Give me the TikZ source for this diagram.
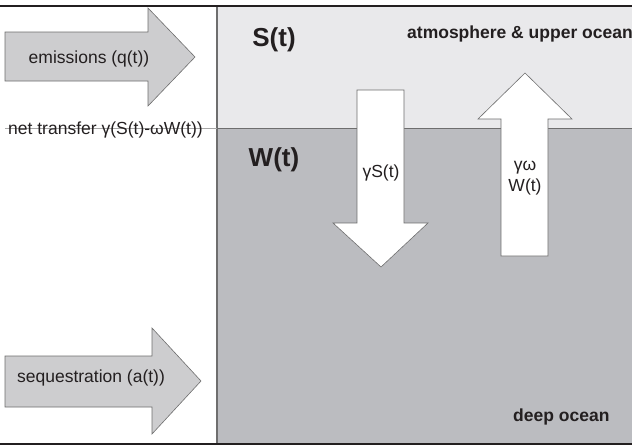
\documentclass[tikz,border=0pt]{standalone}
\usepackage{fontspec}
\setmainfont{Liberation Sans}

\definecolor{upperfill}{HTML}{E9E9EB}
\definecolor{deepfill}{HTML}{BBBCC0}
\definecolor{arrowfill}{HTML}{CDCDCF}
\definecolor{edgegray}{HTML}{6E6E6E}
\definecolor{inkblack}{HTML}{231F20}

\tikzset{
  fatarrow/.style={draw=edgegray, line width=0.6pt, line join=miter},
  lbl/.style={inner sep=0pt, text=inkblack, font=\fontsize{17.5}{21}\selectfont},
  biglbl/.style={inner sep=0pt, text=inkblack, font=\fontsize{26}{30}\selectfont\bfseries},
  boldlbl/.style={inner sep=0pt, text=inkblack, font=\fontsize{17.5}{21}\selectfont\bfseries}
}

\begin{document}
\begin{tikzpicture}[x=1pt,y=-1pt]
  \useasboundingbox (0,0) rectangle (632,447);

  % reservoirs
  \fill[upperfill] (217,6) rectangle (632,128);
  \fill[deepfill] (217,128) rectangle (632,444);
  \draw[edgegray, line width=0.8pt] (217,128) -- (632,128);
  \draw[edgegray, line width=1.5pt] (217,6) -- (217,444);

  % inflow arrows
  \draw[fatarrow, fill=arrowfill] (5,32) -- (148,32) -- (148,8) -- (195,57)
    -- (148,106) -- (148,81) -- (5,81) -- cycle;
  \draw[fatarrow, fill=arrowfill] (5,356) -- (152,356) -- (152,328) -- (201,381)
    -- (152,434) -- (152,407) -- (5,407) -- cycle;

  % exchange arrows
  \draw[fatarrow, fill=white] (357,90) -- (404,90) -- (404,223) -- (428,223)
    -- (381,267) -- (333,223) -- (357,223) -- cycle;
  \draw[fatarrow, fill=white] (501,256) -- (548,256) -- (548,119) -- (572,119)
    -- (525,73) -- (478,119) -- (501,119) -- cycle;

  % net transfer line
  \coordinate (netStart) at (5,128);
  \coordinate (netEnd) at (217,128);
  \draw[gray!70, line width=0.6pt] (netStart) -- (netEnd);

  % top and bottom rules
  \draw[inkblack, line width=2pt] (0,6) -- (632,6);
  \draw[inkblack, line width=2pt] (0,444) -- (632,444);

  % labels
  \node[lbl, anchor=base] (emis) at (89,63) {emissions (q(t))};
  \node[lbl, anchor=base] (seq) at (91,382) {sequestration (a(t))};
  \node[lbl, anchor=base west] (net) at (8,134) {net transfer γ(S(t)-ωW(t))};
  \node[biglbl, anchor=base] (stock) at (274,46) {S(t)};
  \node[biglbl, anchor=base] (wstock) at (274,166) {W(t)};
  \node[boldlbl, anchor=base west] (upper) at (407,38) {atmosphere \& upper ocean};
  \node[boldlbl, anchor=base west] (deep) at (513,421) {deep ocean};
  \node[lbl, anchor=base] (down) at (381,177) {γS(t)};
  \node[lbl, align=center] (up) at (525,178) {γω\\W(t)};
\end{tikzpicture}
\end{document}
